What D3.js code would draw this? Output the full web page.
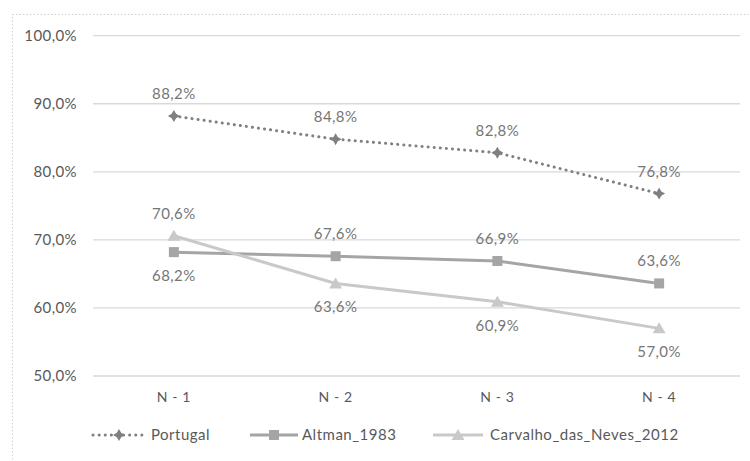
<!DOCTYPE html>
<html><head><meta charset="utf-8">
<script src="https://cdn.jsdelivr.net/npm/d3@7"></script>
<style>body{margin:0;background:#fff}svg{display:block}text{font-family:Lato,"Open Sans",sans-serif}</style>
</head><body><svg id="c" width="750" height="461"></svg>
<script>
const categories = ["N - 1","N - 2","N - 3","N - 4"];
const portugal = [88.2, 84.8, 82.8, 76.8];
const altman = [68.2, 67.6, 66.9, 63.6];
const carvalho = [70.6, 63.6, 60.9, 57.0];
const yTicks = [50,60,70,80,90,100];
const seriesNames = ["Portugal","Altman_1983","Carvalho_das_Neves_2012"];

const svg = d3.select("#c");
svg.append("rect").attr("x",12.5).attr("y",14.5).attr("width",760).attr("height",460)
  .attr("fill","none").attr("stroke","#d0d0d0").attr("stroke-dasharray","1.5,2");

const x = d3.scaleBand().domain(categories).range([93,740]);
const y = d3.scaleLinear().domain([50,100]).range([376,35.7]);
const fmt = v => v.toFixed(1).replace(".",",")+"%";

const grid = svg.append("g");
grid.selectAll("line").data(yTicks).join("line")
  .attr("x1",93).attr("x2",740).attr("y1",d=>y(d)).attr("y2",d=>y(d))
  .attr("stroke","#d9d9d9").attr("stroke-width",1.3);

const yAxis = svg.append("g").attr("transform","translate(93,0)")
  .call(d3.axisLeft(y).tickValues(yTicks).tickFormat(d=>fmt(d)).tickSize(0).tickPadding(16));
yAxis.select(".domain").remove();
yAxis.selectAll("text").attr("font-size",15).attr("letter-spacing",0.4).attr("fill","#595959").attr("font-family","Lato");

const xAxis = svg.append("g").attr("transform","translate(0,376)")
  .call(d3.axisBottom(x).tickSize(0).tickPadding(16));
xAxis.select(".domain").remove();
xAxis.selectAll("text").attr("font-size",14).attr("letter-spacing",0.6).attr("fill","#595959").attr("font-family","Lato");

const cx = c => x(c)+x.bandwidth()/2;
const line = d3.line().x((d,i)=>cx(categories[i])).y(d=>y(d));

const defs = [
  {name:seriesNames[0], data:portugal, color:"#808080", dash:"0.1,6", width:3, cap:"round", marker:"diamond", labelPos:[-1,-1,-1,-1]},
  {name:seriesNames[1], data:altman, color:"#a5a5a5", dash:null, width:3, cap:"butt", marker:"square", labelPos:[1,-1,-1,-1]},
  {name:seriesNames[2], data:carvalho, color:"#c9c9c9", dash:null, width:3, cap:"butt", marker:"triangle", labelPos:[-1,1,1,1]}
];

function drawMarker(g, type, color){
  if(type==="diamond"){
    g.append("path").attr("d","M0,-6 L2.2,-2.2 L6,0 L2.2,2.2 L0,6 L-2.2,2.2 L-6,0 L-2.2,-2.2 Z").attr("fill",color);
  } else if(type==="square"){
    g.append("rect").attr("x",-5).attr("y",-5).attr("width",10).attr("height",10).attr("fill",color);
  } else {
    g.append("path").attr("d","M0,-6 L6.5,5 L-6.5,5 Z").attr("fill",color);
  }
}

defs.forEach(s=>{
  const p = svg.append("path").datum(s.data).attr("d",line).attr("fill","none")
    .attr("stroke",s.color).attr("stroke-width",s.width).attr("stroke-linecap",s.cap);
  if(s.dash) p.attr("stroke-dasharray",s.dash);
});
defs.forEach(s=>{
  s.data.forEach((v,i)=>{
    const g = svg.append("g").attr("transform",`translate(${cx(categories[i])},${y(v)})`);
    drawMarker(g,s.marker,s.color);
  });
});
defs.forEach(s=>{
  s.data.forEach((v,i)=>{
    const dy = s.labelPos[i] < 0 ? -17 : 29;
    svg.append("text").attr("x",cx(categories[i])).attr("y",y(v)+dy)
      .attr("text-anchor","middle").attr("font-size",15).attr("letter-spacing",0.4).attr("fill","#767676").text(fmt(v));
  });
});

// legend
const legX = [93, 250, 433];
const legW = [52, 48, 50];
const legT = [151, 302, 490];
defs.forEach((s,i)=>{
  const lx = legX[i], ly = 435;
  const l = svg.append("line").attr("x1",lx).attr("x2",lx+legW[i]).attr("y1",ly).attr("y2",ly)
    .attr("stroke",s.color).attr("stroke-width",s.width).attr("stroke-linecap",s.cap);
  if(s.dash) l.attr("stroke-dasharray",s.dash);
  const g = svg.append("g").attr("transform",`translate(${lx+legW[i]/2},${ly})`);
  drawMarker(g,s.marker,s.color);
  svg.append("text").attr("x",legT[i]).attr("y",ly+5)
    .attr("font-size",15).attr("letter-spacing",0.5).attr("fill","#595959").text(s.name);
});
</script></body></html>
